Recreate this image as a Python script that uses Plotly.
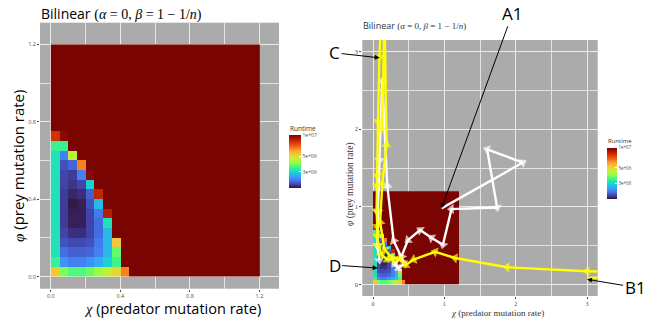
import math
import numpy as np
import plotly.graph_objects as go

W, H = 657, 320

# ---------------- data ----------------
# runtime (in millions) per phi-row (0.05 bins, from phi=0 upward), listed from chi=0 outward;
# tiles beyond each list hit the runtime cap
CAP = 10.0
row_00 = [5.37, 3.94, 3.61, 3.61, 3.80, 4.15, 4.60, 5.10, 6.50]
row_01 = [3.43, 2.47, 2.35, 2.35, 2.47, 2.65, 2.94, 3.49]
row_02 = [3.15, 2.23, 2.15, 2.15, 2.19, 2.35, 2.74, 3.74]
row_03 = [3.15, 2.08, 2.03, 2.03, 2.08, 2.31, 2.74, 5.37]
row_04 = [3.15, 2.01, 1.91, 1.91, 2.01, 2.23, 2.74]
row_05 = [3.15, 1.97, 1.84, 1.84, 2.01, 2.23, 3.15]
row_06 = [3.15, 1.97, 1.84, 1.84, 2.01, 2.31, 8.71]
row_07 = [3.15, 1.97, 1.81, 1.84, 2.08, 2.74]
row_08 = [3.15, 1.97, 1.87, 1.91, 2.15, 8.41]
row_09 = [3.15, 2.01, 1.94, 2.01, 2.94]
row_10 = [3.15, 2.01, 1.97, 2.35, 9.66]
row_11 = [3.15, 2.08, 2.19, 6.50]
row_12 = [3.15, 2.35, 4.44]
row_13 = [3.43, 3.43]
row_14 = [7.99, 9.66]
runtime_rows = [row_00, row_01, row_02, row_03, row_04, row_05, row_06, row_07,
                row_08, row_09, row_10, row_11, row_12, row_13, row_14]
N_BINS = 24
BIN = 0.05

cbar_tickvals = [3e6, 5e6, 1e7]
cbar_ticktext = ["3e+06", "5e+06", "1e+07"]
RUNTIME_MIN = 1.78e6

# trajectories (chi, phi)
white_x = [0.96, 2.10, 1.60, 1.74, 1.10, 0.98, 0.82, 0.66, 0.49, 0.40, 0.30, 0.36, 0.44, 0.29, 0.20, 0.13, 0.09, 0.07, 0.06, 0.09]
white_y = [0.98, 1.57, 1.74, 0.99, 0.97, 0.51, 0.60, 0.70, 0.57, 0.36, 0.26, 0.21, 0.27, 0.56, 1.27, 2.62, 1.60, 0.93, 0.50, 0.31]

yellow_b_x = [3.00, 3.40, 3.40, 3.00, 1.88, 1.15, 0.87, 0.57, 0.46, 0.36, 0.26, 0.16, 0.10, 0.13, 0.19, 0.18, 0.16, 0.14, 0.12]
yellow_b_y = [0.08, 0.10, 0.16, 0.17, 0.22, 0.34, 0.42, 0.32, 0.25, 0.33, 0.35, 0.45, 0.80, 1.30, 1.80, 3.60, 3.60, 2.49, 2.00]

yellow_c_x = [0.12, 0.09, 0.07, 0.06, 0.05, 0.05, 0.06, 0.06, 0.08, 0.12, 0.20, 0.30]
yellow_c_y = [3.60, 2.93, 2.10, 1.40, 1.27, 0.95, 0.75, 0.62, 0.50, 0.38, 0.32, 0.32]

# ---------------- layout geometry ----------------
def px(x):
    return x / W

def py(y):
    return 1 - y / H

L_DOM_X = [40, 279]
L_DOM_Y = [288.7, 22.7]
L_RANGE = [-0.0625, 1.3125]
R_DOM_X = [362.3, 597.7]
R_DOM_Y = [296, 40]
R_RANGE = [-0.15, 3.15]

# ---------------- build grid ----------------
centers = [BIN * (i + 0.5) for i in range(N_BINS)]
z = []
for r in range(N_BINS):
    vals = runtime_rows[r] if r < len(runtime_rows) else []
    z.append([np.log10((vals[c] if c < len(vals) else CAP) * 1e6) for c in range(N_BINS)])

zmin = np.log10(RUNTIME_MIN)
zmax = np.log10(1e7)

SANS = "Open Sans"
SERIF = "Liberation Serif"

fig = go.Figure()

def cbar(x0, y0, length, thick, fsize):
    return dict(
        x=px(x0), xanchor="left", y=py(y0), yanchor="top",
        lenmode="pixels", len=length, thickness=thick,
        xpad=0, ypad=0, outlinewidth=0,
        tickvals=[np.log10(v) for v in cbar_tickvals], ticktext=cbar_ticktext,
        ticks="inside", ticklen=2, tickcolor="white", tickwidth=1,
        tickfont=dict(size=fsize, color="#4d4d4d", family=SANS),
    )

fig.add_trace(go.Heatmap(x=centers, y=centers, z=z, zmin=zmin, zmax=zmax,
                         colorscale="Turbo", xaxis="x", yaxis="y",
                         colorbar=cbar(289, 135, 53, 12, 5), hoverinfo="skip"))
fig.add_trace(go.Heatmap(x=centers, y=centers, z=z, zmin=zmin, zmax=zmax,
                         colorscale="Turbo", xaxis="x2", yaxis="y2",
                         colorbar=cbar(607, 147.5, 51, 10, 4.5), hoverinfo="skip"))

# pixel scale of the right panel, used to orient the arrowheads along each segment
SX = (R_DOM_X[1] - R_DOM_X[0]) / (R_RANGE[1] - R_RANGE[0])
SY = (R_DOM_Y[0] - R_DOM_Y[1]) / (R_RANGE[1] - R_RANGE[0])

def traj(xs, ys, color):
    angles = [0.0]
    for i in range(1, len(xs)):
        dx = (xs[i] - xs[i - 1]) * SX
        dy = (ys[i] - ys[i - 1]) * SY
        angles.append(math.degrees(math.atan2(dx, dy)))
    sizes = [0] + [9] * (len(xs) - 1)
    return go.Scatter(x=xs, y=ys, mode="lines+markers", xaxis="x2", yaxis="y2",
                      line=dict(color=color, width=2.4),
                      marker=dict(symbol="triangle-up", angle=angles, size=sizes,
                                  color=color, line=dict(width=0)),
                      showlegend=False, hoverinfo="skip")

fig.add_trace(traj(white_x, white_y, "white"))
fig.add_trace(traj(yellow_b_x, yellow_b_y, "#ffff00"))
fig.add_trace(traj(yellow_c_x, yellow_c_y, "#ffff00"))

BG = "#ababab"
common = dict(showline=False, zeroline=False, ticks="outside", ticklen=2,
              tickcolor="#4d4d4d", tickwidth=0.8, gridcolor="#ececec", gridwidth=1.2)

fig.update_layout(
    width=W, height=H, margin=dict(l=0, r=0, t=0, b=0),
    paper_bgcolor="white", plot_bgcolor=BG, showlegend=False,
    xaxis=dict(domain=[px(L_DOM_X[0]), px(L_DOM_X[1])], range=L_RANGE, anchor="y",
               tick0=0, dtick=0.4, tickformat=".1f",
               tickfont=dict(size=5.5, color="#4d4d4d", family=SANS),
               minor=dict(showgrid=True, dtick=0.2, tick0=0, gridcolor="#e2e2e2", gridwidth=1, ticks=""),
               **common),
    yaxis=dict(domain=[py(L_DOM_Y[0]), py(L_DOM_Y[1])], range=L_RANGE, anchor="x",
               tick0=0, dtick=0.4, tickformat=".1f",
               tickfont=dict(size=5.5, color="#4d4d4d", family=SANS),
               minor=dict(showgrid=True, dtick=0.2, tick0=0, gridcolor="#e2e2e2", gridwidth=1, ticks=""),
               **common),
    xaxis2=dict(domain=[px(R_DOM_X[0]), px(R_DOM_X[1])], range=R_RANGE, anchor="y2",
                tick0=0, dtick=1,
                tickfont=dict(size=6, color="#4d4d4d", family=SERIF),
                minor=dict(showgrid=True, dtick=0.5, tick0=0, gridcolor="#e2e2e2", gridwidth=1, ticks=""),
                **common),
    yaxis2=dict(domain=[py(R_DOM_Y[0]), py(R_DOM_Y[1])], range=R_RANGE, anchor="x2",
                tick0=0, dtick=1,
                tickfont=dict(size=6.5, color="#4d4d4d", family=SERIF),
                minor=dict(showgrid=True, dtick=0.5, tick0=0, gridcolor="#e2e2e2", gridwidth=1, ticks=""),
                **common),
)

def text(t, x, y, size, family=SANS, xanchor="center", angle=0, color="black"):
    fig.add_annotation(text=t, x=px(x), y=py(y), xref="paper", yref="paper",
                       xanchor=xanchor, yanchor="middle", showarrow=False,
                       textangle=angle, font=dict(size=size, family=family, color=color))

math_title = "<span style='font-family:Liberation Serif'>(<i>α</i> = 0, <i>β</i> = 1 − 1/<i>n</i>)</span>"
text("Bilinear " + math_title, 39, 14, 14, xanchor="left")
text("<span style='font-family:Liberation Serif'><i>χ</i></span> (predator mutation rate)", 172, 308.5, 14.5)
text("<span style='font-family:Liberation Serif'><i>φ</i></span> (prey mutation rate)", 18, 166, 15, angle=-90)
text("Runtime", 288, 128, 6.5, xanchor="left", color="#333333")

text("Bilinear " + math_title, 361, 25, 9, xanchor="left", color="#333333")
text("<i>χ</i> (predator mutation rate)", 497.5, 312.5, 9, family=SERIF, color="#333333")
text("<i>φ</i> (prey mutation rate)", 350, 184, 9.5, family=SERIF, angle=-90, color="#333333")
text("Runtime", 606, 140.5, 6, xanchor="left", color="#333333")

def label(t, x, y, ax, ay):
    fig.add_annotation(text=t, x=x, y=y, xref="x2", yref="y2", ax=ax, ay=ay,
                       showarrow=True, arrowhead=2, arrowsize=1, arrowwidth=1,
                       arrowcolor="black", standoff=0,
                       font=dict(size=17, family=SANS, color="black"))

label("A1", 0.96, 0.98, 71, -195)
label("C", 0.094, 2.92, -45, -5)
label("D", 0.066, 0.21, -43, -3)
label("B1", 3.0, 0.065, 48, 8)

fig.write_html("out.html", config={"displayModeBar": False},
               post_script="document.body.style.margin='0';document.body.style.padding='0';")
